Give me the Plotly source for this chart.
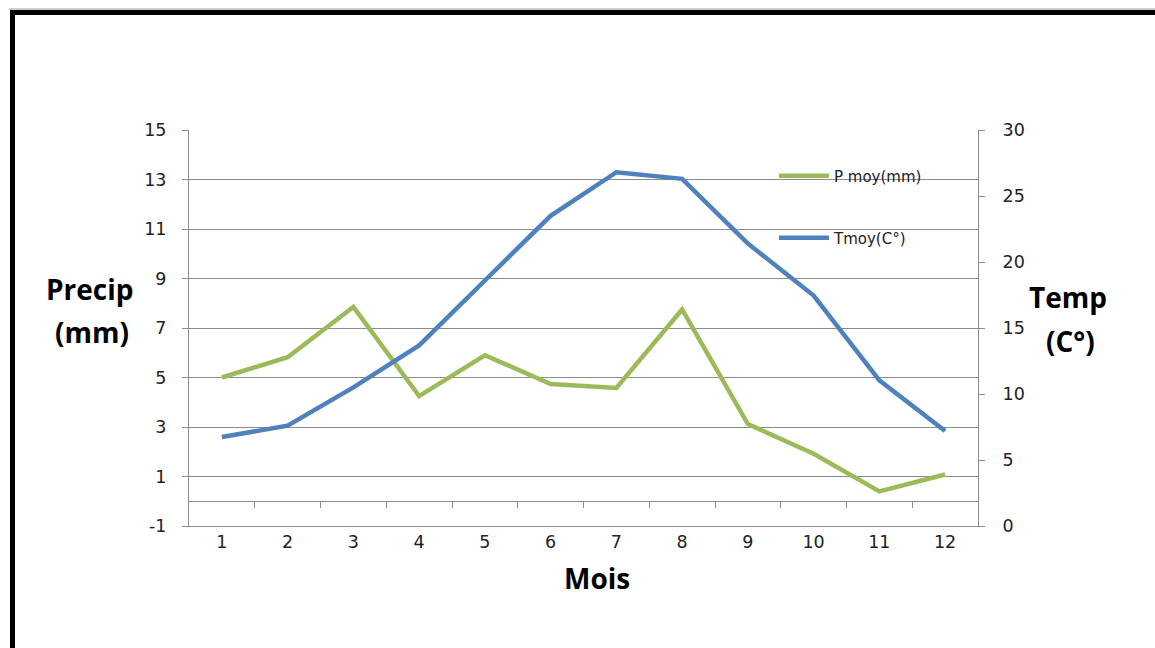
import plotly.graph_objects as go

months = [1, 2, 3, 4, 5, 6, 7, 8, 9, 10, 11, 12]
p_moy = [5.0, 5.82, 7.85, 4.25, 5.9, 4.74, 4.58, 7.75, 3.12, 1.92, 0.4, 1.08]
t_moy = [6.74, 7.6, 10.5, 13.68, 18.6, 23.5, 26.8, 26.3, 21.4, 17.46, 11.03, 7.19]
left_ticks = [-1, 1, 3, 5, 7, 9, 11, 13, 15]
left_ticktext = ["-1", "1", "3", "5", "7", "9", "11", "13", "15"]
right_ticks = [0, 5, 10, 15, 20, 25, 30]
boundary_ticks = [1.5, 2.5, 3.5, 4.5, 5.5, 6.5, 7.5, 8.5, 9.5, 10.5, 11.5]

W, H = 1155, 648
L, R, T, B = 189, 978, 130, 526  # plot area in px


def px(xp):
    return (xp - L) / (R - L)


def py(yp):
    return (B - yp) / (B - T)


GREEN = "#9BBB59"
BLUE = "#4F81BD"
GRID = "#8c8c8c"
TICKFONT = dict(family="DejaVu Sans", size=17.5, color="#222222")
LEGFONT = dict(family="DejaVu Sans", size=15, color="#222222")

fig = go.Figure()
fig.add_trace(go.Scatter(x=months, y=p_moy, name="P moy(mm)", mode="lines",
                         line=dict(color=GREEN, width=4.5), yaxis="y", legend="legend"))
fig.add_trace(go.Scatter(x=months, y=t_moy, name="Tmoy(C°)", mode="lines",
                         line=dict(color=BLUE, width=4.5), yaxis="y2", legend="legend2"))
# invisible trace to carry the category axis crossing at 0
fig.add_trace(go.Scatter(x=[None], y=[None], xaxis="x2", yaxis="y", showlegend=False,
                         hoverinfo="skip"))

fig.update_layout(
    width=W, height=H,
    margin=dict(l=L, r=W - R, t=T, b=H - B),
    paper_bgcolor="white", plot_bgcolor="white",
    xaxis=dict(range=[0.5, 12.5], tickvals=months, ticktext=[str(m) for m in months],
               showgrid=False, zeroline=False, showline=True, linecolor=GRID,
               ticks="", tickfont=TICKFONT, ticklabelstandoff=0),
    xaxis2=dict(overlaying="x", anchor="free", position=1 / 16, range=[0.5, 12.5],
                tickvals=boundary_ticks, ticks="outside", ticklen=6, tickcolor=GRID,
                showticklabels=False, showline=True, linecolor=GRID, showgrid=False,
                zeroline=False, side="bottom"),
    yaxis=dict(range=[-1, 15], tickvals=left_ticks, ticktext=left_ticktext,
               showgrid=True, gridcolor=GRID,
               gridwidth=1, zeroline=False, showline=True, linecolor=GRID,
               ticks="outside", ticklen=6, tickcolor=GRID, tickfont=TICKFONT,
               ticklabelstandoff=12),
    yaxis2=dict(range=[0, 30], tickvals=right_ticks, overlaying="y", side="right",
                showgrid=False, zeroline=False, showline=True, linecolor=GRID,
                ticks="outside", ticklen=6, tickcolor=GRID, tickfont=TICKFONT,
                ticklabelstandoff=14),
    legend=dict(x=px(774), y=py(176), xanchor="left", yanchor="middle",
                bgcolor="rgba(0,0,0,0)", borderwidth=0, itemwidth=50, font=LEGFONT),
    legend2=dict(x=px(774), y=py(238), xanchor="left", yanchor="middle",
                 bgcolor="rgba(0,0,0,0)", borderwidth=0, itemwidth=50, font=LEGFONT),
    showlegend=True,
)

TITLEFONT = dict(family="Open Sans", size=28, color="black")
annots = [
    ("<b>Precip</b>", 90, 289),
    ("<b>(mm)</b>", 92, 332),
    ("<b>Temp</b>", 1068, 297),
    ("<b>(C°)</b>", 1070, 341),
    ("<b>Mois</b>", 597, 578),
]
for text, x, y in annots:
    fig.add_annotation(text=text, x=px(x), y=py(y), xref="paper", yref="paper",
                       showarrow=False, xanchor="center", yanchor="middle", font=TITLEFONT)

# outer frame (partially cropped in the reference)
fig.add_shape(type="rect", xref="paper", yref="paper",
              x0=px(12.5), x1=px(1200), y0=py(12.5), y1=py(700),
              line=dict(color="black", width=5), fillcolor="rgba(0,0,0,0)", layer="above")
fig.add_shape(type="line", xref="paper", yref="paper",
              x0=px(9), x1=px(1200), y0=py(9), y1=py(9),
              line=dict(color="#999999", width=1))

fig.write_html("out.html")
